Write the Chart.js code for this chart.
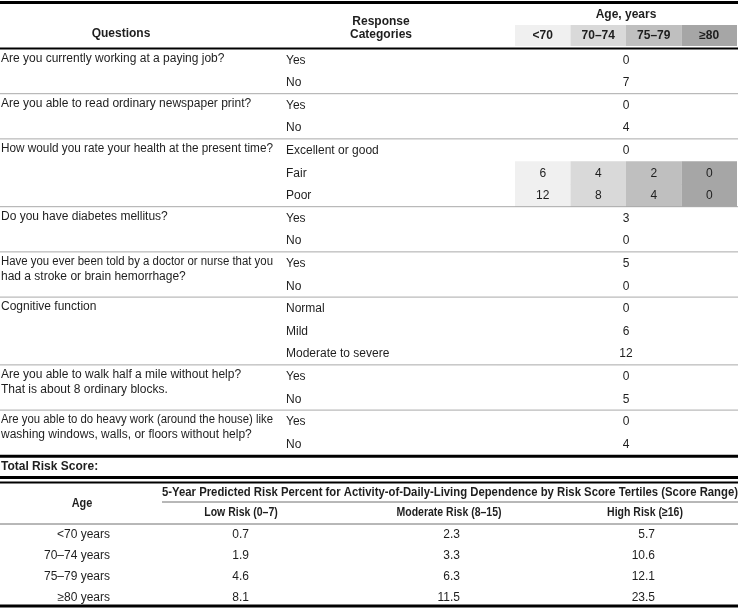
<!DOCTYPE html>
<html>
<head>
<meta charset="utf-8">
<script src="https://cdn.jsdelivr.net/npm/chart.js@4"></script>
<style>
  body { margin: 0; background: #fff; }
  canvas { display: block; }
</style>
</head>
<body>
<canvas id="scoreTable" width="738" height="608"></canvas>
<script>
// questionnaire part
const QUESTIONS = [
  ["Are you currently working at a paying job?"],
  ["Are you able to read ordinary newspaper print?"],
  ["How would you rate your health at the present time?"],
  ["Do you have diabetes mellitus?"],
  ["Have you ever been told by a doctor or nurse that you", "had a stroke or brain hemorrhage?"],
  ["Cognitive function"],
  ["Are you able to walk half a mile without help?", "That is about 8 ordinary blocks."],
  ["Are you able to do heavy work (around the house) like", "washing windows, walls, or floors without help?"]
];
const RESPONSES = [
  ["Yes", "No"],
  ["Yes", "No"],
  ["Excellent or good", "Fair", "Poor"],
  ["Yes", "No"],
  ["Yes", "No"],
  ["Normal", "Mild", "Moderate to severe"],
  ["Yes", "No"],
  ["Yes", "No"]
];
// one score for every age; null = depends on age (see below)
const POINTS = [[0, 7], [0, 4], [0, null, null], [3, 0], [5, 0], [0, 6, 12], [0, 5], [0, 4]];
const AGE_GROUPS = ["<70", "70–74", "75–79", "≥80"];
const FAIR_POINTS = [6, 4, 2, 0];
const POOR_POINTS = [12, 8, 4, 0];

// risk part
const RISK_AGES = ["<70 years", "70–74 years", "75–79 years", "≥80 years"];
const RISK_TERTILES = ["Low Risk (0–7)", "Moderate Risk (8–15)", "High Risk (≥16)"];
const LOW_RISK = [0.7, 1.9, 4.6, 8.1];
const MODERATE_RISK = [2.3, 3.3, 6.3, 11.5];
const HIGH_RISK = [5.7, 10.6, 12.1, 23.5];

// layout (x and y scales run in page pixels)
const ROW_TOP = 48.5, ROW_H = 22.6;
const AGE_EDGES = [515, 570.5, 626, 681.5, 737];
const AGE_SHADES = ["#f0f0f0", "#d9d9d9", "#bfbfbf", "#a6a6a6"];
const RISK_ROW_Y = [535, 556, 577, 597.5];
const RISK_COL_RIGHT = [249, 460, 655];
const RISK_COL_MID = [241, 449, 645];

const FONT = "'Liberation Sans', Arial, sans-serif";
const NARROW = "'Liberation Sans Narrow', 'Arial Narrow', 'Liberation Sans', sans-serif";
const INK = "#1e1e1e";

const rowY = i => ROW_TOP + ROW_H * (i + 0.5);
const groupStart = [];
RESPONSES.reduce((n, r, g) => { groupStart[g] = n; return n + r.length; }, 0);
const healthGroup = 2;
const fairRow = groupStart[healthGroup] + 1;
const poorRow = groupStart[healthGroup] + 2;

const cellBars = (vals, y) => vals.map((v, i) => ({ x: [AGE_EDGES[i], AGE_EDGES[i + 1]], y: y, v: v }));

const tableText = {
  id: "tableText",
  afterDatasetsDraw(chart) {
    const c = chart.ctx;
    const X = v => chart.scales.x.getPixelForValue(v);
    const Y = v => chart.scales.y.getPixelForValue(v);
    const text = (s, x, y, font, align, maxW) => {
      c.font = font;
      c.textAlign = align || "left";
      c.textBaseline = "middle";
      c.fillStyle = INK;
      if (maxW) c.fillText(s, X(x), Y(y), maxW);
      else c.fillText(s, X(x), Y(y));
    };
    // narrow bold; squeeze it if no narrow face is installed
    c.font = "bold 13px " + NARROW;
    const nw = c.measureText("Moderate Risk").width;
    c.font = "bold 13px " + FONT;
    const squeeze = nw / c.measureText("Moderate Risk").width > 0.9 ? 0.84 : 1;
    const narrow = (s, x, y, size, align, maxW) => {
      const f = "bold " + size + "px " + NARROW;
      c.font = f;
      const w = c.measureText(s).width * squeeze;
      text(s, x, y, f, align, maxW ? Math.min(w, maxW) : w);
    };
    const rule = (y, w, color, x0, x1) => {
      c.beginPath();
      c.strokeStyle = color;
      c.lineWidth = w;
      c.moveTo(X(x0 == null ? 0 : x0), Y(y));
      c.lineTo(X(x1 == null ? 738 : x1), Y(y));
      c.stroke();
    };
    c.save();

    // header
    rule(2.5, 3, "#000");
    text("Questions", 121, 34, "bold 12px " + FONT, "center");
    text("Response", 381, 22, "bold 12px " + FONT, "center");
    text("Categories", 381, 35, "bold 12px " + FONT, "center");
    text("Age, years", 626, 15, "bold 12px " + FONT, "center");
    AGE_GROUPS.forEach((g, i) => text(g, (AGE_EDGES[i] + AGE_EDGES[i + 1]) / 2, 36, "bold 12px " + FONT, "center"));
    rule(48.5, 2, "#000");

    // question rows
    QUESTIONS.forEach((lines, g) => {
      const start = groupStart[g];
      lines.forEach((l, k) => text(l, 1, rowY(start) - 1.5 + k * 14.5, "12px " + FONT, "left", 272));
      RESPONSES[g].forEach((r, k) => {
        text(r, 286, rowY(start + k) + 0.5, "12px " + FONT);
        const p = POINTS[g][k];
        if (p != null) text(String(p), (AGE_EDGES[0] + AGE_EDGES[4]) / 2, rowY(start + k) + 0.5, "12px " + FONT, "center");
      });
      const end = ROW_TOP + ROW_H * (start + RESPONSES[g].length);
      if (g < QUESTIONS.length - 1) rule(end, 1, "#a9a9a9");
      else rule(end + 1, 3, "#000");
    });
    [FAIR_POINTS, POOR_POINTS].forEach((vals, k) => {
      vals.forEach((v, i) => text(String(v), (AGE_EDGES[i] + AGE_EDGES[i + 1]) / 2, rowY(fairRow + k) + 0.5, "12px " + FONT, "center"));
    });

    // total + risk table
    text("Total Risk Score:", 1, 466.5, "bold 12px " + FONT);
    rule(477.5, 3, "#000");
    rule(482.5, 2, "#000");
    narrow("5-Year Predicted Risk Percent for Activity-of-Daily-Living Dependence by Risk Score Tertiles (Score Range)",
      450, 492, 13.5, "center", 576);
    rule(502, 1, "#707070", 162, 738);
    narrow("Age", 82, 503, 13, "center");
    RISK_TERTILES.forEach((t, i) => narrow(t, RISK_COL_MID[i], 513, 12.5, "center"));
    rule(524, 1, "#707070");
    RISK_AGES.forEach((a, r) => {
      text(a, 110, RISK_ROW_Y[r], "12px " + FONT, "right");
      [LOW_RISK, MODERATE_RISK, HIGH_RISK].forEach((col, i) =>
        text(col[r].toFixed(1), RISK_COL_RIGHT[i], RISK_ROW_Y[r], "12px " + FONT, "right"));
    });
    rule(606, 3, "#000");
    c.restore();
  }
};

new Chart(document.getElementById("scoreTable").getContext("2d"), {
  type: "bar",
  data: {
    datasets: [
      { data: cellBars(AGE_GROUPS, 35.5), backgroundColor: AGE_SHADES, barThickness: 21 },
      { data: cellBars(FAIR_POINTS, rowY(fairRow)), backgroundColor: AGE_SHADES, barThickness: 23 },
      { data: cellBars(POOR_POINTS, rowY(poorRow)), backgroundColor: AGE_SHADES, barThickness: 23 }
    ]
  },
  options: {
    indexAxis: "y",
    responsive: false,
    animation: false,
    devicePixelRatio: 1,
    layout: { padding: 0 },
    datasets: { bar: { grouped: false, borderWidth: 0, inflateAmount: 0 } },
    scales: {
      x: { type: "linear", min: 0, max: 738, offset: false, display: false },
      y: { type: "linear", min: 0, max: 608, reverse: true, offset: false, display: false }
    },
    plugins: { legend: { display: false }, tooltip: { enabled: false } }
  },
  plugins: [tableText]
});
</script>
</body>
</html>
